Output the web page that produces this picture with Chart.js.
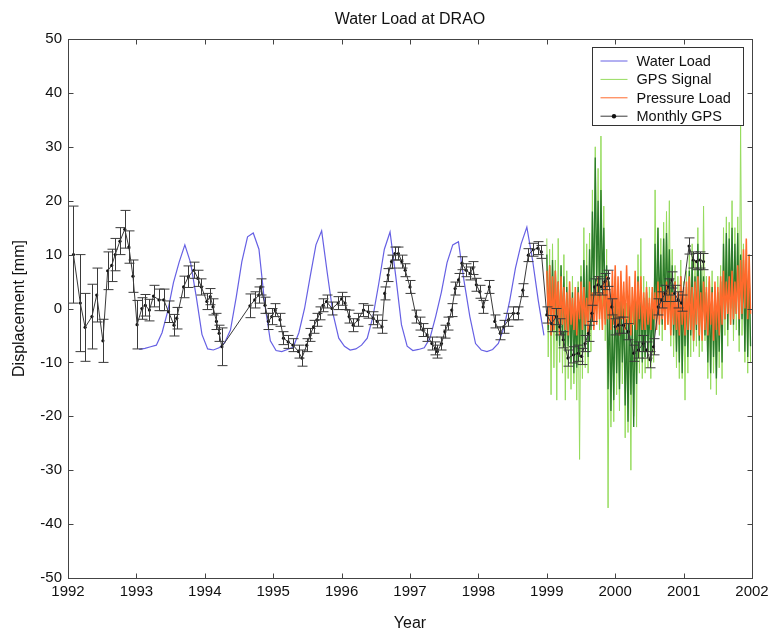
<!DOCTYPE html>
<html>
<head>
<meta charset="utf-8">
<title>Water Load at DRAO</title>
<script src="https://cdn.jsdelivr.net/npm/chart.js@4.4.1/dist/chart.umd.min.js"></script>
<style>
  html, body { margin: 0; padding: 0; background: #fff; }
  #wrap { width: 774px; height: 635px; }
</style>
</head>
<body>
<div id="wrap"><canvas id="chart" width="774" height="635"></canvas></div>
<script>
// --- axis ticks ---
const yearTicks = [1992, 1993, 1994, 1995, 1996, 1997, 1998, 1999, 2000, 2001, 2002];
const displacementTicks = [-50, -40, -30, -20, -10, 0, 10, 20, 30, 40, 50];

// --- Water load model, monthly (mid-month) from Jan 1993 ---
const waterStart = 1993 + 0.5 / 12;
const waterStep = 1 / 12;
const waterLoad = [
  -7.6, -7.4, -7.1, -6.8, -4.5, -0.5, 4.8, 8.6, 11.8, 8.5, 2.2, -4.8,
  -7.5, -7.7, -7.3, -6.3, -4.0, 2.0, 8.7, 13.3, 14.0, 11.0, 1.0, -6.0,
  -7.8, -8.0, -7.6, -7.2, -4.5, 0.0, 6.0, 11.8, 14.4, 6.5, -1.0, -5.5,
  -7.0, -7.7, -7.5, -6.8, -5.5, -1.5, 4.5, 11.0, 14.2, 6.0, -3.0, -7.0,
  -7.8, -7.6, -7.3, -5.5, -1.5, 3.0, 8.5, 11.8, 12.4, 5.0, -1.5, -6.5,
  -7.7, -8.0, -7.6, -6.5, -3.5, 1.5, 7.5, 12.0, 15.1, 9.0, 1.5, -5.0
];

// --- Monthly GPS solutions with 1-sigma errors ---
const monthlyYears = [
  1992.08, 1992.18, 1992.25, 1992.35, 1992.42, 1992.51, 1992.58, 1992.64, 1992.69, 1992.76, 1992.83, 1992.89, 1992.95,
  1993.01, 1993.08, 1993.13, 1993.19, 1993.25, 1993.33, 1993.40, 1993.47, 1993.55, 1993.59, 1993.69, 1993.76, 1993.84, 1993.90, 1993.95,
  1994.03, 1994.08, 1994.12, 1994.17, 1994.21, 1994.25, 1994.66, 1994.73, 1994.79, 1994.82, 1994.88, 1994.93, 1994.98,
  1995.03, 1995.10, 1995.15, 1995.22, 1995.29, 1995.37, 1995.42, 1995.49, 1995.54, 1995.59, 1995.64, 1995.68, 1995.73, 1995.78, 1995.86, 1995.95,
  1996.00, 1996.05, 1996.11, 1996.17, 1996.24, 1996.32, 1996.39, 1996.46, 1996.52, 1996.59, 1996.63, 1996.68, 1996.73, 1996.78, 1996.83, 1996.88, 1996.93, 1997.00,
  1997.09, 1997.15, 1997.19, 1997.25, 1997.32, 1997.37, 1997.40, 1997.46, 1997.51, 1997.56, 1997.61, 1997.66, 1997.71, 1997.76, 1997.82, 1997.88, 1997.92, 1997.97,
  1998.02, 1998.07, 1998.16, 1998.24, 1998.32, 1998.37, 1998.44, 1998.51, 1998.58, 1998.65, 1998.73, 1998.80, 1998.87, 1998.92,
  1999.00, 1999.07, 1999.14, 1999.19, 1999.24, 1999.31, 1999.39, 1999.46, 1999.51, 1999.56, 1999.61, 1999.66, 1999.70, 1999.75, 1999.80, 1999.85, 1999.90, 1999.95,
  2000.00, 2000.05, 2000.12, 2000.19, 2000.27, 2000.34, 2000.41, 2000.46, 2000.51, 2000.56, 2000.63, 2000.68, 2000.73, 2000.78, 2000.83, 2000.87, 2000.92, 2000.97,
  2001.08, 2001.14, 2001.19, 2001.24, 2001.29
];
const monthlyGps = [
  10, 1, -3.5, -1.5, 2.5, -6, 7, 8, 10, 12.5, 14.7, 11.4, 6,
  -3, 0, 0.6, -0.3, 2.3, 1.6, 1.6, -0.6, -3.1, -1.8, 4, 5.9, 7.1, 5.6, 4,
  1.3, 2.2, 0.3, -2.4, -4.6, -7.1, 0.5, 1.6, 2.5, 4, 0.6, -2.4, -1.5,
  -0.3, -2.1, -5.5, -6.2, -6.8, -8, -9.2, -6.8, -4.9, -3.4, -2.1, -0.9, 0.6, 1.3, 0, 1,
  1.8, 1, -1.5, -3.1, -2.1, -0.3, -0.6, -1.8, -2.4, -3.4, 2.8, 6.2, 8.7, 10.2, 10.2, 8.7, 7.1, 4,
  -1.5, -2.8, -4, -4.9, -6.5, -7.4, -8, -6.5, -4.3, -2.8, -0.3, 3.7, 5.3, 8.4, 7.1, 6.5, 7.5, 4.4,
  3.1, 0.3, 4, -2.4, -4.6, -3.4, -2.1, -0.9, -0.9, 3.4, 9.9, 10.9, 11.2, 10.5,
  -1.2, -2.8, -1.5, -3.4, -5.8, -9.2, -8.6, -8.3, -8.9, -6.5, -4.6, -0.9, 4, 4.4, 4, 5, 5.6, 0.3,
  -3.4, -3.1, -3.1, -4.3, -8.3, -7.7, -6.5, -7.7, -9.5, -7.1, 0.3, 1.6, 2.8, 4, 5.3, 2.8, 1.6, 1,
  11.6, 9, 8.7, 9, 8.7
];
const monthlyErr = [
  9, 9, 6.3, 6, 5, 4, 3.5, 3, 3, 2.5, 3.5, 3, 3,
  4.5, 2, 2, 2, 2, 2, 2, 2, 2, 2, 2, 2, 1.5, 1.5, 1.5,
  1.5, 1.5, 1.5, 1.5, 1.5, 3.5, 2.2, 1.5, 1.5, 1.5, 1.5, 1.5, 1.5,
  1.2, 1.2, 1.2, 1.2, 1.2, 1.2, 1.5, 1.2, 1.2, 1.2, 1.2, 1.2, 1.2, 1.2, 1.2, 1.2,
  1.2, 1.2, 1.2, 1.2, 1.2, 1.2, 1.2, 1.2, 1.2, 1.2, 1.2, 1.2, 1.2, 1.2, 1.2, 1.2, 1.2, 1.2,
  1.2, 1.2, 1.2, 1.2, 1.2, 1.2, 1.2, 1.2, 1.2, 1.2, 1.2, 1.2, 1.2, 1.2, 1.2, 1.2, 1.2, 1.2,
  1.2, 1.2, 1.2, 1.2, 1.2, 1.2, 1.2, 1.2, 1.2, 1.2, 1.2, 1.2, 1.2, 1.2,
  1.5, 1.5, 1.5, 1.5, 1.5, 1.5, 1.5, 1.5, 1.5, 1.5, 1.5, 1.5, 1.5, 1.5, 1.5, 1.5, 1.5, 1.5,
  1.5, 1.5, 1.5, 1.5, 1.5, 1.5, 1.5, 1.5, 1.5, 1.5, 1.5, 1.5, 1.5, 1.5, 1.5, 1.5, 1.5, 1.5,
  1.5, 1.5, 1.5, 1.5, 1.5
];

// --- Continuous GPS 1999-2002, sampled every 1/48 yr (high / low pairs) ---
const gpsStart = 1999;
const gpsStep = 1 / 48;
const gpsSignal = [
  13, -9, 11, -16, 12, -11, 9, -17, 13, -10, 8, -12, 10, -17, 7, -13, 5, -15, 6, -14, 3, -17, 5, -28,
  8, -13, 15, -11, 12, -12, 14, -8, 22, -3, 30, -1, 26, -4, 32, -2, 19, -6, 11, -37, 5, -22, 2, -21,
  6, -16, 3, -19, 5, -14, 3, -24, 1, -23, 0, -30, 4, -20, 5, -22, 10, -12, 13, -13, 6, -12, 5, -11,
  4, -13, 3, -10, 22, -3, 15, -5, 13, -6, 16, -4, 18, -3, 20, -7, 11, -9, 8, -11, 6, -13, 9, -13,
  5, -17, 7, -12, 10, -9, 12, -8, 9, -7, 15, -9, 9, -8, 19, -6, 6, -13, 5, -15, 7, -12, 4, -16,
  6, -11, 8, -13, 15, -5, 17, -7, 16, -3, 20, -6, 15, -4, 17, -8, 34, -5, 12, -10, 11, -12, 10, -10
];
const gpsCore = [
  10, -4, 8, -5, 9, -3, 7, -6, 5, -7, 8, -5, 6, -8, 4, -7, 2, -10, 3, -12, 0, -11, 4, -9,
  6, -8, 9, -6, 8, -9, 11, -4, 18, 2, 28, 5, 20, 0, 22, 4, 15, -2, 8, -15, 2, -19, -2, -17,
  3, -12, 0, -15, 2, -10, 0, -18, -2, -21, 1, -16, -3, -22, 2, -14, 6, -8, 4, -10, 2, -9, 3, -8,
  1, -10, 0, -7, 12, -2, 15, 0, 10, -3, 13, -1, 14, 0, 11, -4, 8, -5, 5, -8, 3, -10, 6, -12,
  2, -7, 4, -9, 7, -5, 9, -6, 6, -4, 12, -6, 8, -3, 6, -5, 3, -10, 2, -12, 4, -9, 1, -13,
  3, -8, 5, -10, 12, -2, 14, -4, 13, 0, 15, -3, 12, -1, 14, -5, 10, -2, 9, -8, 8, -9, 7, -7
];
const pressureLoad = [
  7, -3, 8, -5, 6, -4, 7, -2, 5, -5, 6, -3, 4, -4, 3, -5, 5, -3, 2, -4, 4, -5, 3, -2,
  5, -4, 4, -3, 2, -5, 5, -2, 3, -4, 4, -3, 6, -2, 3, -4, 5, -3, 6, -2, 4, -4, 7, -3,
  8, -4, 6, -5, 7, -2, 5, -4, 8, -3, 6, -5, 4, -3, 7, -4, 5, -2, 6, -4, 3, -4, 4, -3,
  2, -4, 4, -2, 3, -4, 5, -3, 4, -2, 3, -4, 5, -3, 4, -5, 3, -3, 5, -4, 3, -5, 6, -3,
  4, -5, 5, -4, 6, -4, 4, -6, 5, -3, 6, -5, 3, -6, 5, -4, 4, -5, 6, -3, 3, -6, 5, -4,
  4, -5, 6, -3, 7, -2, 5, -1, 6, -3, 7, -2, 5, -1, 8, -2, 9, -1, 11, 0, 13, -2, 10, -1
];

const colors = {
  water: '#6660e4',
  gpsLight: '#96dc5e',
  gpsDark: '#2b7a2b',
  pressure: '#ff6a2c',
  monthly: '#3a3a3a'
};
const fontFamily = '"Liberation Sans", Arial, Helvetica, sans-serif';

const toPoints = (start, step, values) => values.map((v, i) => ({ x: start + i * step, y: v }));
const monthlyPoints = monthlyYears.map((t, i) => ({ x: t, y: monthlyGps[i] }));

// MATLAB-like frame, error bars, legend and titles
const matlabLook = {
  id: 'matlabLook',
  beforeDraw(chart) {
    const ctx = chart.ctx;
    ctx.save();
    ctx.fillStyle = '#fff';
    ctx.fillRect(0, 0, chart.width, chart.height);
    ctx.restore();
  },
  afterDatasetsDraw(chart) {
    const ctx = chart.ctx, ca = chart.chartArea;
    const xs = chart.scales.x, ys = chart.scales.y;
    ctx.save();
    ctx.beginPath();
    ctx.rect(ca.left, ca.top, ca.right - ca.left, ca.bottom - ca.top);
    ctx.clip();
    ctx.strokeStyle = colors.monthly;
    ctx.lineWidth = 1;
    monthlyYears.forEach((t, i) => {
      const px = Math.round(xs.getPixelForValue(t)) + 0.5;
      const top = ys.getPixelForValue(monthlyGps[i] + monthlyErr[i]);
      const bot = ys.getPixelForValue(monthlyGps[i] - monthlyErr[i]);
      ctx.beginPath();
      ctx.moveTo(px, top); ctx.lineTo(px, bot);
      ctx.moveTo(px - 5, top); ctx.lineTo(px + 5, top);
      ctx.moveTo(px - 5, bot); ctx.lineTo(px + 5, bot);
      ctx.stroke();
    });
    ctx.restore();
  },
  afterDraw(chart) {
    const ctx = chart.ctx, ca = chart.chartArea;
    const xs = chart.scales.x, ys = chart.scales.y;
    const L = Math.round(ca.left) + 0.5, R = Math.round(ca.right) + 0.5;
    const T = Math.round(ca.top) + 0.5, B = Math.round(ca.bottom) + 0.5;
    ctx.save();
    ctx.strokeStyle = '#444';
    ctx.lineWidth = 1;
    ctx.strokeRect(L, T, R - L, B - T);
    ctx.beginPath();
    yearTicks.forEach(v => {
      const px = Math.round(xs.getPixelForValue(v)) + 0.5;
      ctx.moveTo(px, B); ctx.lineTo(px, B - 5);
      ctx.moveTo(px, T); ctx.lineTo(px, T + 5);
    });
    displacementTicks.forEach(v => {
      const py = Math.round(ys.getPixelForValue(v)) + 0.5;
      ctx.moveTo(L, py); ctx.lineTo(L + 5, py);
      ctx.moveTo(R, py); ctx.lineTo(R - 5, py);
    });
    ctx.stroke();

    // legend box
    const items = chart.data.datasets.filter(d => d.inLegend).sort((a, b) => a.legendRank - b.legendRank);
    const boxW = 151, boxH = 78;
    const bx = Math.round(ca.right - 9 - boxW) + 0.5, by = Math.round(ca.top + 8) + 0.5;
    ctx.fillStyle = '#fff';
    ctx.fillRect(bx, by, boxW, boxH);
    ctx.strokeStyle = '#333';
    ctx.strokeRect(bx, by, boxW, boxH);
    ctx.font = '14.5px ' + fontFamily;
    ctx.textBaseline = 'middle';
    ctx.textAlign = 'left';
    items.forEach((d, i) => {
      const y = by + 13.5 + i * 18.4;
      ctx.strokeStyle = d.borderColor;
      ctx.lineWidth = 1;
      ctx.beginPath();
      ctx.moveTo(bx + 8, y); ctx.lineTo(bx + 35, y);
      ctx.stroke();
      if (d.pointRadius > 0) {
        ctx.fillStyle = '#111';
        ctx.beginPath();
        ctx.arc(bx + 21.5, y, 2.2, 0, Math.PI * 2);
        ctx.fill();
      }
      ctx.fillStyle = '#111';
      ctx.fillText(d.label, bx + 44, y + 1);
    });

    // titles
    ctx.fillStyle = '#111';
    ctx.textAlign = 'center';
    ctx.textBaseline = 'alphabetic';
    ctx.font = '16px ' + fontFamily;
    const cx = (ca.left + ca.right) / 2;
    ctx.fillText('Water Load at DRAO', cx, 24);
    ctx.fillText('Year', cx, 628);
    ctx.save();
    ctx.translate(24, (ca.top + ca.bottom) / 2);
    ctx.rotate(-Math.PI / 2);
    ctx.fillText('Displacement [mm]', 0, 0);
    ctx.restore();
    ctx.restore();
  }
};

new Chart(document.getElementById('chart'), {
  type: 'line',
  data: {
    datasets: [
      {
        label: 'Monthly GPS', data: monthlyPoints, inLegend: true, legendRank: 4,
        borderColor: colors.monthly, borderWidth: 1, pointRadius: 1.6,
        pointBackgroundColor: '#111', pointBorderWidth: 0, order: 1
      },
      {
        label: 'Pressure Load', data: toPoints(gpsStart, gpsStep, pressureLoad), inLegend: true, legendRank: 3,
        borderColor: colors.pressure, borderWidth: 1.5, pointRadius: 0, order: 2
      },
      {
        label: 'GPS Signal core', data: toPoints(gpsStart, gpsStep, gpsCore),
        borderColor: colors.gpsDark, borderWidth: 1.3, pointRadius: 0, order: 3
      },
      {
        label: 'GPS Signal', data: toPoints(gpsStart, gpsStep, gpsSignal), inLegend: true, legendRank: 2,
        borderColor: colors.gpsLight, borderWidth: 1, pointRadius: 0, order: 4
      },
      {
        label: 'Water Load', data: toPoints(waterStart, waterStep, waterLoad), inLegend: true, legendRank: 1,
        borderColor: colors.water, borderWidth: 1.2, pointRadius: 0, order: 5
      }
    ]
  },
  options: {
    responsive: false,
    animation: false,
    layout: { padding: { top: 39, right: 22, bottom: 0, left: 0 } },
    elements: { line: { tension: 0 } },
    plugins: { legend: { display: false }, tooltip: { enabled: false }, title: { display: false } },
    scales: {
      x: {
        type: 'linear', min: 1992, max: 2002,
        grid: { display: false, drawTicks: false },
        border: { display: false },
        afterFit: s => { s.height = 57; },
        afterBuildTicks: s => { s.ticks = yearTicks.map(v => ({ value: v })); },
        ticks: {
          padding: 5, maxRotation: 0, autoSkip: false, color: '#111',
          font: { family: fontFamily, size: 15 },
          callback: v => String(v)
        }
      },
      y: {
        type: 'linear', min: -50, max: 50,
        grid: { display: false, drawTicks: false },
        border: { display: false },
        afterFit: s => { s.width = 68; },
        afterBuildTicks: s => { s.ticks = displacementTicks.map(v => ({ value: v })); },
        ticks: {
          padding: 6, color: '#111',
          font: { family: fontFamily, size: 15 },
          callback: v => String(v)
        }
      }
    }
  },
  plugins: [matlabLook]
});
</script>
</body>
</html>
